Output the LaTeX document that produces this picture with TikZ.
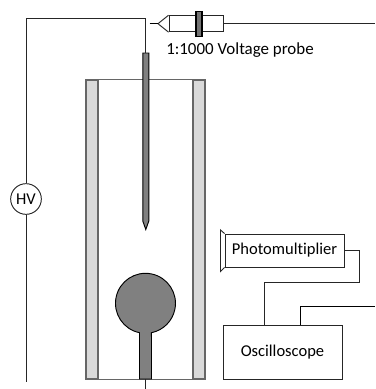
\documentclass[tikz,border=0pt]{standalone}
\usepackage{fontspec}
\setmainfont[Ligatures=NoCommon]{Carlito}
\definecolor{wallgray}{gray}{0.85}
\definecolor{metalgray}{gray}{0.5}
\definecolor{edgegray}{gray}{0.4}

\begin{document}
\begin{tikzpicture}[
  x=.75pt,y=-.75pt,
  wire/.style={draw=black!85,line width=.7pt},
  wall/.style={draw=edgegray,fill=wallgray,line width=.9pt},
  metal/.style={draw=black,fill=metalgray,line width=.7pt},
  box/.style={draw=black!85,line width=.7pt,inner sep=0pt,font=\fontsize{12.4}{14}\selectfont},
  ]
  \useasboundingbox (0,0) rectangle (375,389);
  % tube
  \node[wall,minimum width=9pt,minimum height=224.25pt,inner sep=0pt](wallL) at (92,229.5) {};
  \node[wall,minimum width=9pt,minimum height=224.25pt,inner sep=0pt](wallR) at (199,229.5) {};
  \draw[edgegray,line width=.9pt] (wallL.north west) -- (wallR.north east);
  \draw[edgegray,line width=.9pt] (wallL.south west) -- (wallR.south east);
  % needle
  \draw[metal] (142.8,53) -- (148.8,53) -- (148.8,221) -- (145.8,229.5) -- (142.8,221) -- cycle;
  % sphere
  \coordinate(stub) at (145.5,379);
  \draw[metal] (139.5,379) -- (139.5,332.7) arc[start angle=101.5,end angle=438.5,radius=30] -- (151.5,379) -- cycle;
  \coordinate(ground) at (145.5,389);
  \draw[wire] (stub) -- (ground);
  % high voltage
  \node[box,circle,minimum size=23pt](hv) at (26,199) {HV};
  \coordinate(hvbot) at (26,382);
  \coordinate(needletop) at (145.5,53);
  \draw[wire] (hv) -- (26,18.5) -- (145.5,18.5) -- (needletop);
  \draw[wire] (hv) -- (hvbot);
  % probe
  \coordinate(probetip) at (149.5,23.7);
  \coordinate(conebase) at (158,23.7);
  \coordinate(scope) at (375,23.7);
  \node[box,minimum width=40.5pt,minimum height=12pt](probe) at (196,23.7) {};
  \draw[wire] (probe.north west) -- (conebase) -- (probe.south west);
  \draw[line width=1.1pt] (probetip) -- (conebase);
  \node[draw=black,fill=black!55,line width=.9pt,minimum width=4.5pt,minimum height=19pt,inner sep=0pt](flange) at (199,24) {};
  \draw[wire] (probe.east) -- (scope);
  \node[anchor=west,inner sep=0pt,font=\fontsize{12.7}{14}\selectfont](probelabel) at (166,50) {1:1000 Voltage probe};
  % detection
  \node[box,minimum width=89.25pt,minimum height=24.75pt](pm) at (284.5,250.5) {Photomultiplier};
  \draw[wire] (pm.north west) -- (220.5,230) -- (220.5,271.5) -- (pm.south west);
  \node[box,minimum width=89.25pt,minimum height=40.5pt](osc) at (282.5,352) {Oscilloscope};
  \draw[wire] (pm.east) -- (359.5,250.5) -- (359.5,282) -- (264.5,282) -- (264.5,325);
  \coordinate(oscout) at (375,306);
  \draw[wire,draw=black] (300,325) -- (300,306) -- (oscout);
\end{tikzpicture}
\end{document}
